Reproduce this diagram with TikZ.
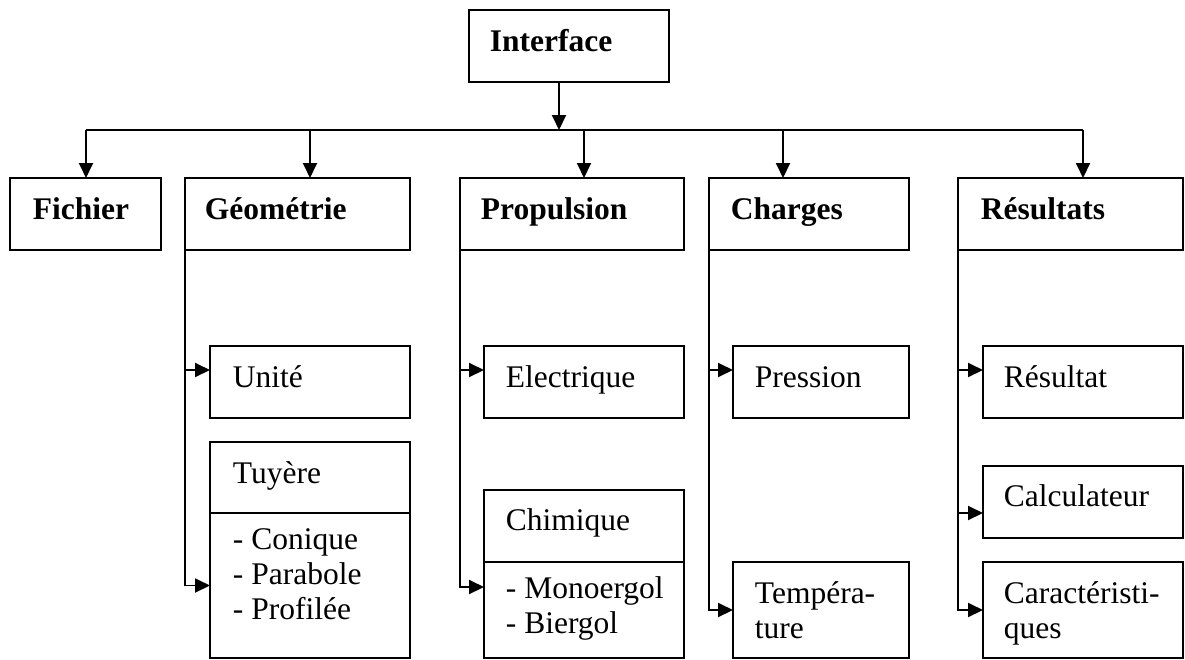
\documentclass[tikz,border=0pt]{standalone}
\usepackage{fontspec}
\setmainfont{Liberation Serif}
\usetikzlibrary{arrows.meta}

\begin{document}
\begin{tikzpicture}[x=1pt,y=-1pt,line width=1.9pt,
  >={Triangle[length=15pt,width=14pt]},
  font=\fontsize{31.5}{35}\selectfont,
  box/.style={rectangle,draw,anchor=north west,inner sep=0pt,outer sep=0pt,minimum height=72pt},
  boxtext/.style={anchor=base west,inner sep=0pt,align=left},
  headtext/.style={boxtext,font=\fontsize{31.5}{35}\selectfont\bfseries}]
  \useasboundingbox (0,0) rectangle (1185,659);

  \node[box,minimum width=200pt] (interface) at (469,10) {};
  \node[box,minimum width=151pt] (fichier) at (10,178) {};
  \node[box,minimum width=225pt] (geometrie) at (185,178) {};
  \node[box,minimum width=224pt] (propulsion) at (460,178) {};
  \node[box,minimum width=200pt] (charges) at (709,178) {};
  \node[box,minimum width=225pt] (resultats) at (958,178) {};

  \node[box,minimum width=200pt] (unite) at (210,346) {};
  \node[box,minimum width=200pt,minimum height=71pt] (tuyere) at (210,442) {};
  \node[box,minimum width=200pt,minimum height=145pt] (tuyere-types) at (210,513) {};
  \node[box,minimum width=200pt] (electrique) at (484,346) {};
  \node[box,minimum width=200pt] (chimique) at (484,490) {};
  \node[box,minimum width=200pt,minimum height=96pt] (chimique-types) at (484,562) {};
  \node[box,minimum width=176pt] (pression) at (733,346) {};
  \node[box,minimum width=176pt,minimum height=96pt] (temperature) at (733,562) {};
  \node[box,minimum width=200pt] (resultat) at (983,346) {};
  \node[box,minimum width=200pt] (calculateur) at (983,466) {};
  \node[box,minimum width=200pt,minimum height=96pt] (caracteristiques) at (983,562) {};

  \node[headtext] (t-interface) at ([shift={(20,41)}]interface.north west) {Interface};
  \node[headtext] (t-fichier) at ([shift={(22,41)}]fichier.north west) {Fichier};
  \node[headtext] (t-geometrie) at ([shift={(19,41)}]geometrie.north west) {Géométrie};
  \node[headtext] (t-propulsion) at ([shift={(20,41)}]propulsion.north west) {Propulsion};
  \node[headtext] (t-charges) at ([shift={(21,41)}]charges.north west) {Charges};
  \node[headtext] (t-resultats) at ([shift={(22,41)}]resultats.north west) {Résultats};

  % base of a multi-line text is its last line
  \node[boxtext] (t-unite) at ([shift={(22,41)}]unite.north west) {Unité};
  \node[boxtext] (t-tuyere) at ([shift={(22,41)}]tuyere.north west) {Tuyère};
  \node[boxtext] (t-tuyere-types) at ([shift={(22,106)}]tuyere-types.north west)
    {- Conique\\- Parabole\\- Profilée};
  \node[boxtext] (t-electrique) at ([shift={(21,41)}]electrique.north west) {Electrique};
  \node[boxtext] (t-chimique) at ([shift={(21,40)}]chimique.north west) {Chimique};
  \node[boxtext] (t-chimique-types) at ([shift={(21,71)}]chimique-types.north west)
    {- Monoergol\\- Biergol};
  \node[boxtext] (t-pression) at ([shift={(21,41)}]pression.north west) {Pression};
  \node[boxtext] (t-temperature) at ([shift={(21,76)}]temperature.north west) {Tempéra-\\ture};
  \node[boxtext] (t-resultat) at ([shift={(20,41)}]resultat.north west) {Résultat};
  \node[boxtext] (t-calculateur) at ([shift={(20,40)}]calculateur.north west) {Calculateur};
  \node[boxtext] (t-caracteristiques) at ([shift={(20,76)}]caracteristiques.north west)
    {Caractéristi-\\ques};

  \coordinate (tap-int) at (559,130);
  \coordinate (tap-fic) at (86,130);
  \coordinate (tap-geo) at (310,130);
  \coordinate (tap-pro) at (584,130);
  \coordinate (tap-cha) at (783,130);
  \coordinate (tap-res) at (1083,130);

  \draw (tap-fic) -- (tap-res);
  \draw[->] (interface.south -| tap-int) -- (tap-int);
  \foreach \t/\n in {fic/fichier,geo/geometrie,pro/propulsion,cha/charges,res/resultats}
    \draw[->] (tap-\t) -- (tap-\t |- \n.north);

  \draw[->] (geometrie.south west) |- ([yshift=12pt]unite.west);
  \draw[->] (geometrie.south west) |- (tuyere-types.west);
  \draw[->] (propulsion.south west) |- ([yshift=12pt]electrique.west);
  \draw[->] (propulsion.south west) |- ([yshift=23pt]chimique-types.west);
  \draw[->] (charges.south west) |- ([yshift=12pt]pression.west);
  \draw[->] (charges.south west) |- (temperature.west);
  \draw[->] (resultats.south west) |- ([yshift=12pt]resultat.west);
  \draw[->] (resultats.south west) |- ([yshift=-11pt]calculateur.west);
  \draw[->] (resultats.south west) |- (caracteristiques.west);
\end{tikzpicture}
\end{document}
